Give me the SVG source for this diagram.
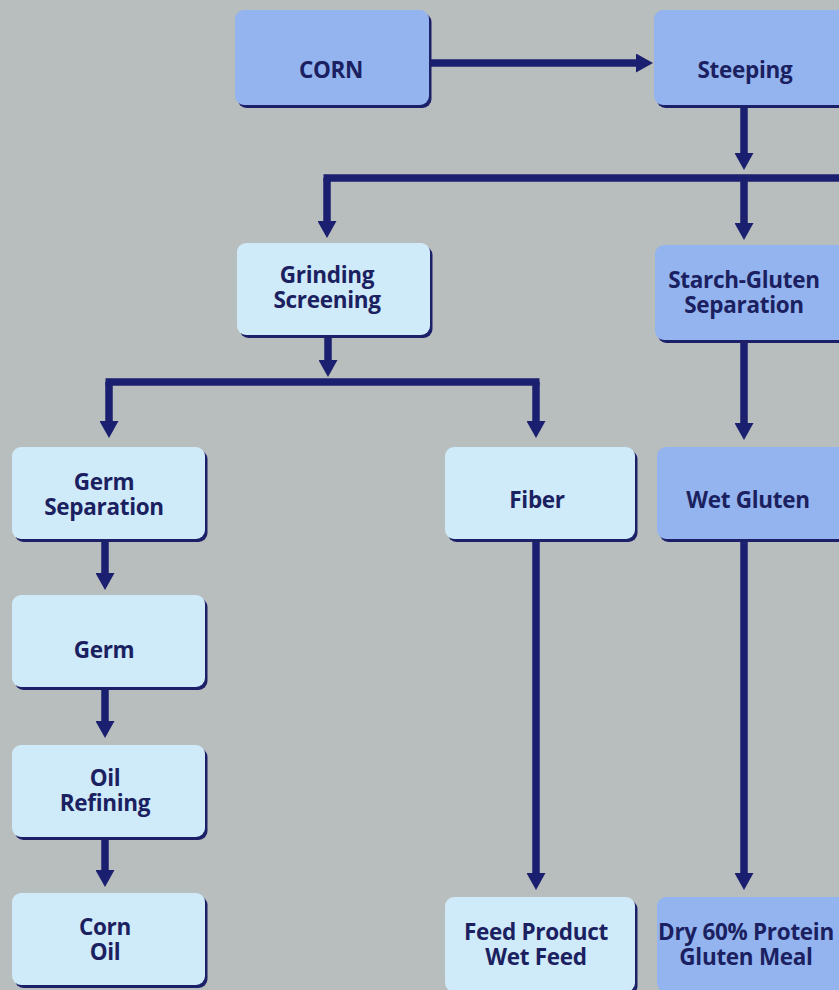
<svg xmlns="http://www.w3.org/2000/svg" width="839" height="990" viewBox="0 0 839 990">
<defs>
<style>
.sh{fill:#1c2068}
.med{fill:#93b4ef}
.lt{fill:#cfeaf9}
.t{font-family:"Open Sans","Noto Sans","Liberation Sans",sans-serif;font-weight:700;font-size:22.5px;fill:#1b2160;text-anchor:middle;letter-spacing:-0.3px}
.c{fill:none;stroke:#1b1f6f;stroke-width:7.5}
</style>
<marker id="ah" markerUnits="userSpaceOnUse" viewBox="0 0 17 19" refX="2" refY="9.5" markerWidth="17" markerHeight="19" orient="auto">
<path d="M0,0 L17,9.5 L0,19 z" fill="#1b1f6f"/>
</marker>
</defs>
<rect x="0" y="0" width="839" height="990" fill="#b8bebd"/>
<g id="connectors">
<path class="c" d="M430,63 H638" marker-end="url(#ah)"/>
<path class="c" d="M744,107 V155" marker-end="url(#ah)"/>
<path class="c" d="M323.5,178 H845"/>
<path class="c" d="M327,178 V223" marker-end="url(#ah)"/>
<path class="c" d="M744,178 V225" marker-end="url(#ah)"/>
<path class="c" d="M328,335 V362" marker-end="url(#ah)"/>
<path class="c" d="M105.5,382 H539.5"/>
<path class="c" d="M109,382 V423" marker-end="url(#ah)"/>
<path class="c" d="M536,382 V423" marker-end="url(#ah)"/>
<path class="c" d="M744,342 V425" marker-end="url(#ah)"/>
<path class="c" d="M105,540 V575" marker-end="url(#ah)"/>
<path class="c" d="M105,689 V723" marker-end="url(#ah)"/>
<path class="c" d="M105,838 V872" marker-end="url(#ah)"/>
<path class="c" d="M536,540 V875" marker-end="url(#ah)"/>
<path class="c" d="M744,540 V875" marker-end="url(#ah)"/>
</g>
<g id="corn">
<rect class="sh" x="237.5" y="13" width="194" height="95" rx="9"/>
<rect class="med" x="235" y="10" width="194" height="95" rx="9"/>
<text class="t" x="331" y="78">CORN</text>
</g>
<g id="steeping">
<rect class="sh" x="656.5" y="13" width="200" height="95" rx="9"/>
<rect class="med" x="654" y="10" width="200" height="95" rx="9"/>
<text class="t" x="745" y="78">Steeping</text>
</g>
<g id="grinding">
<rect class="sh" x="239.5" y="246" width="193" height="92" rx="9"/>
<rect class="lt" x="237" y="243" width="193" height="92" rx="9"/>
<text class="t" x="327" y="283">Grinding</text>
<text class="t" x="327" y="308">Screening</text>
</g>
<g id="starch">
<rect class="sh" x="657.5" y="248" width="200" height="95" rx="9"/>
<rect class="med" x="655" y="245" width="200" height="95" rx="9"/>
<text class="t" x="744" y="288">Starch-Gluten</text>
<text class="t" x="744" y="313">Separation</text>
</g>
<g id="germsep">
<rect class="sh" x="14.5" y="450" width="193" height="92" rx="9"/>
<rect class="lt" x="12" y="447" width="193" height="92" rx="9"/>
<text class="t" x="104" y="490">Germ</text>
<text class="t" x="104" y="515">Separation</text>
</g>
<g id="fiber">
<rect class="sh" x="447.5" y="450" width="190" height="92" rx="9"/>
<rect class="lt" x="445" y="447" width="190" height="92" rx="9"/>
<text class="t" x="537" y="508">Fiber</text>
</g>
<g id="wetgluten">
<rect class="sh" x="659.5" y="450" width="200" height="92" rx="9"/>
<rect class="med" x="657" y="447" width="200" height="92" rx="9"/>
<text class="t" x="748" y="508">Wet Gluten</text>
</g>
<g id="germ">
<rect class="sh" x="14.5" y="598" width="193" height="92" rx="9"/>
<rect class="lt" x="12" y="595" width="193" height="92" rx="9"/>
<text class="t" x="104" y="658">Germ</text>
</g>
<g id="oil">
<rect class="sh" x="14.5" y="748" width="193" height="92" rx="9"/>
<rect class="lt" x="12" y="745" width="193" height="92" rx="9"/>
<text class="t" x="105" y="786">Oil</text>
<text class="t" x="105" y="811">Refining</text>
</g>
<g id="cornoil">
<rect class="sh" x="14.5" y="896" width="193" height="92" rx="9"/>
<rect class="lt" x="12" y="893" width="193" height="92" rx="9"/>
<text class="t" x="105" y="935">Corn</text>
<text class="t" x="105" y="960">Oil</text>
</g>
<g id="feed">
<rect class="sh" x="447.5" y="900" width="190" height="95" rx="9"/>
<rect class="lt" x="445" y="897" width="190" height="95" rx="9"/>
<text class="t" x="536" y="940">Feed Product</text>
<text class="t" x="536" y="965">Wet Feed</text>
</g>
<g id="dry">
<rect class="sh" x="659.5" y="900" width="200" height="95" rx="9"/>
<rect class="med" x="657" y="897" width="200" height="95" rx="9"/>
<text class="t" x="746" y="940">Dry 60% Protein</text>
<text class="t" x="746" y="965">Gluten Meal</text>
</g>
</svg>
